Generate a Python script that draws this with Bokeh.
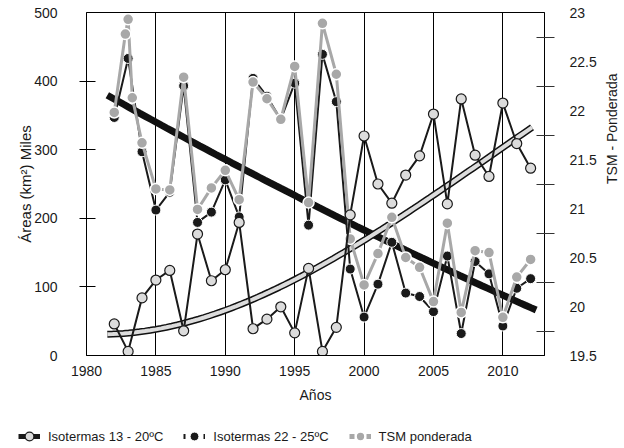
import numpy as np
from math import pi
from bokeh.plotting import figure
from bokeh.layouts import column
from bokeh.models import Range1d, LinearAxis, FixedTicker, Legend, LegendItem
from bokeh.embed import file_html
from bokeh.resources import INLINE

# ---------------- data ----------------
years = list(range(1982, 2013))
iso13_20 = [46, 6, 84, 110, 124, 36, 177, 109, 125, 194, 39, 53, 71, 33, 127, 6,
            41, 205, 320, 250, 222, 263, 291, 352, 221, 374, 292, 261, 368, 309, 273]
iso22_25 = [347, 433, 297, 212, 238, 393, 194, 209, 256, 202, 404, 378, 344, 397, 190,
            439, 370, 126, 56, 104, 165, 91, 86, 64, 145, 32, 137, 119, 43, 98, 112]
tsm_years = [1982, 1982.8, 1983, 1983.3] + list(range(1984, 2013))
tsm = [21.98, 22.78, 22.93, 22.13, 21.67, 21.20, 21.19, 22.34, 20.99, 21.21, 21.39,
       21.09, 22.29, 22.12, 21.91, 22.45, 21.06, 22.89, 22.37, 20.69, 20.22, 20.54,
       20.91, 20.50, 20.40, 20.05, 20.85, 19.94, 20.57, 20.55, 19.89, 20.30, 20.48]

# trend lines, points read along them
trend_dec_t = [1981.5, 1992.6, 1996, 2000, 2004.1, 2012.4]
trend_dec_v = [377, 262, 233, 174, 137, 70]
trend_inc_t = [1981.5, 1987.0, 1992.6, 1996, 2000, 2005.5, 2008.9, 2012.1]
trend_inc_v = [30, 49.5, 88, 117.5, 168.5, 241, 290, 331]

x_ticks = [1980, 1985, 1990, 1995, 2000, 2005, 2010]
left_ticks = [0, 100, 200, 300, 400, 500]
right_ticks = [19.5, 20, 20.5, 21, 21.5, 22, 22.5, 23]

labels_legend = ["Isotermas 13 - 20ºC", "Isotermas 22 - 25ºC", "TSM ponderada"]

# ---------------- main figure ----------------
FONT = "Liberation Sans"
TXT = "#1a1a1a"
BLACK = "#1a1a1a"
GRAY = "#a8a8a8"
LIGHT = "#dcdcdc"

p = figure(frame_width=458, frame_height=343, x_range=Range1d(1980, 2013), y_range=Range1d(0, 500),
           output_backend="svg", toolbar_location=None,
           min_border_left=86, min_border_right=80, min_border_top=12, min_border_bottom=55)
p.frame_align = False
p.extra_y_ranges = {"tsm": Range1d(19.5, 23)}
p.background_fill_color = "white"
p.border_fill_color = "white"
p.outline_line_color = "black"
p.outline_line_width = 1

# grid
p.ygrid.visible = False
p.xgrid.ticker = FixedTicker(ticks=x_ticks[1:])
p.xgrid.grid_line_color = "black"
p.xgrid.grid_line_width = 1

# x axis
p.xaxis.ticker = FixedTicker(ticks=x_ticks)
p.xaxis.major_tick_out = 0
p.xaxis.major_tick_in = 0
p.xaxis.major_tick_line_color = None
p.xaxis.minor_tick_line_color = None
p.xaxis.axis_line_color = "black"
p.xaxis.major_label_standoff = 10
p.xaxis.major_label_text_font = FONT
p.xaxis.major_label_text_font_size = "14px"
p.xaxis.major_label_text_color = TXT
p.xaxis.axis_label = "Años"
p.xaxis.axis_label_standoff = 8
p.xaxis.axis_label_text_font = FONT
p.xaxis.axis_label_text_font_size = "14px"
p.xaxis.axis_label_text_font_style = "normal"
p.xaxis.axis_label_text_color = TXT

# left axis
p.yaxis.ticker = FixedTicker(ticks=left_ticks, minor_ticks=left_ticks[1:-1])
p.yaxis.major_tick_out = 0
p.yaxis.major_tick_in = 0
p.yaxis.minor_tick_in = 9
p.yaxis.minor_tick_out = 7
p.yaxis.minor_tick_line_color = "black"
p.yaxis.axis_line_color = "black"
p.yaxis.major_label_standoff = 22
p.yaxis.major_label_text_font = FONT
p.yaxis.major_label_text_font_size = "14px"
p.yaxis.major_label_text_color = TXT
p.yaxis.axis_label = "Áreas (km²) Miles"
p.yaxis.axis_label_standoff = -3
p.yaxis.axis_label_text_font = FONT
p.yaxis.axis_label_text_font_size = "15px"
p.yaxis.axis_label_text_font_style = "normal"
p.yaxis.axis_label_text_color = TXT

# right axis
minor_r = [r + 0.25 for r in right_ticks[:-1]]
ax_r = LinearAxis(y_range_name="tsm",
                  ticker=FixedTicker(ticks=right_ticks, minor_ticks=minor_r))
ax_r.major_tick_out = 0
ax_r.major_tick_in = 0
ax_r.minor_tick_in = 8
ax_r.minor_tick_out = 10
ax_r.minor_tick_line_color = "#333333"
ax_r.axis_line_color = "black"
ax_r.major_label_standoff = 15
ax_r.major_label_text_font = FONT
ax_r.major_label_text_font_size = "14px"
ax_r.major_label_text_color = TXT
ax_r.axis_label = "TSM - Ponderada"
ax_r.axis_label_orientation = pi / 2
ax_r.axis_label_standoff = 12
ax_r.axis_label_text_font = FONT
ax_r.axis_label_text_font_size = "14px"
ax_r.axis_label_text_font_style = "normal"
ax_r.axis_label_text_color = TXT
p.add_layout(ax_r, "right")

# ---------------- trend lines ----------------
cd = np.polyfit(np.array(trend_dec_t) - 1995, trend_dec_v, 2)
td = np.linspace(trend_dec_t[0], trend_dec_t[-1], 80)
p.line(td, np.polyval(cd, td - 1995), line_color="#111111", line_width=7)

ci = np.polyfit(np.array(trend_inc_t) - 1995, trend_inc_v, 3)
ti = np.linspace(trend_inc_t[0], trend_inc_t[-1], 80)
p.line(ti, np.polyval(ci, ti - 1995), line_color="#111111", line_width=7)
p.line(ti, np.polyval(ci, ti - 1995), line_color=LIGHT, line_width=4)

# ---------------- series ----------------
p.line(years, iso22_25, line_color=BLACK, line_width=2)
p.scatter(years, iso22_25, size=10, fill_color=BLACK, line_color="white", line_width=1)

p.line(tsm_years, tsm, line_color=GRAY, line_width=3, y_range_name="tsm")
p.scatter(tsm_years, tsm, size=11, fill_color=GRAY, line_color="white",
          line_width=1.5, y_range_name="tsm")

p.line(years, iso13_20, line_color=BLACK, line_width=2)
p.scatter(years, iso13_20, size=10, fill_color=LIGHT, line_color=BLACK, line_width=1.2)

# ---------------- legend strip ----------------
lf = figure(width=624, height=38, x_range=Range1d(0, 1), y_range=Range1d(0, 1),
            output_backend="svg", toolbar_location=None,
            x_axis_location=None, y_axis_location=None, min_border=0)
lf.frame_align = False
lf.grid.visible = False
lf.outline_line_color = None
lf.background_fill_color = "white"
lf.border_fill_color = "white"

off = [-10]  # legend swatches only: keep the dummy points outside the strip's range
g1l = lf.line(off, off, line_color=BLACK, line_width=5)
g1m = lf.scatter(off, off, size=10, fill_color=LIGHT, line_color=BLACK, line_width=1.2)
g2l = lf.line(off, off, line_color=BLACK, line_width=5, line_dash="2 18")
g2m = lf.scatter(off, off, size=10, fill_color=BLACK, line_color="white", line_width=1)
g3l = lf.line(off, off, line_color=GRAY, line_width=5, line_dash="5 12")
g3m = lf.scatter(off, off, size=11, fill_color=GRAY, line_color="white", line_width=1.5)

legend = Legend(items=[LegendItem(label=labels_legend[0], renderers=[g1l, g1m]),
                       LegendItem(label=labels_legend[1], renderers=[g2l, g2m]),
                       LegendItem(label=labels_legend[2], renderers=[g3l, g3m])],
                orientation="horizontal", location=(18, 0),
                glyph_width=22, glyph_height=24, label_standoff=8, spacing=20,
                padding=0, margin=0, border_line_color=None, background_fill_alpha=0,
                label_text_font=FONT, label_text_font_size="13px", label_text_color=TXT,
                label_text_baseline="middle")
lf.add_layout(legend, "center")

open("out.html", "w").write(file_html(column(p, lf, spacing=0), INLINE))
